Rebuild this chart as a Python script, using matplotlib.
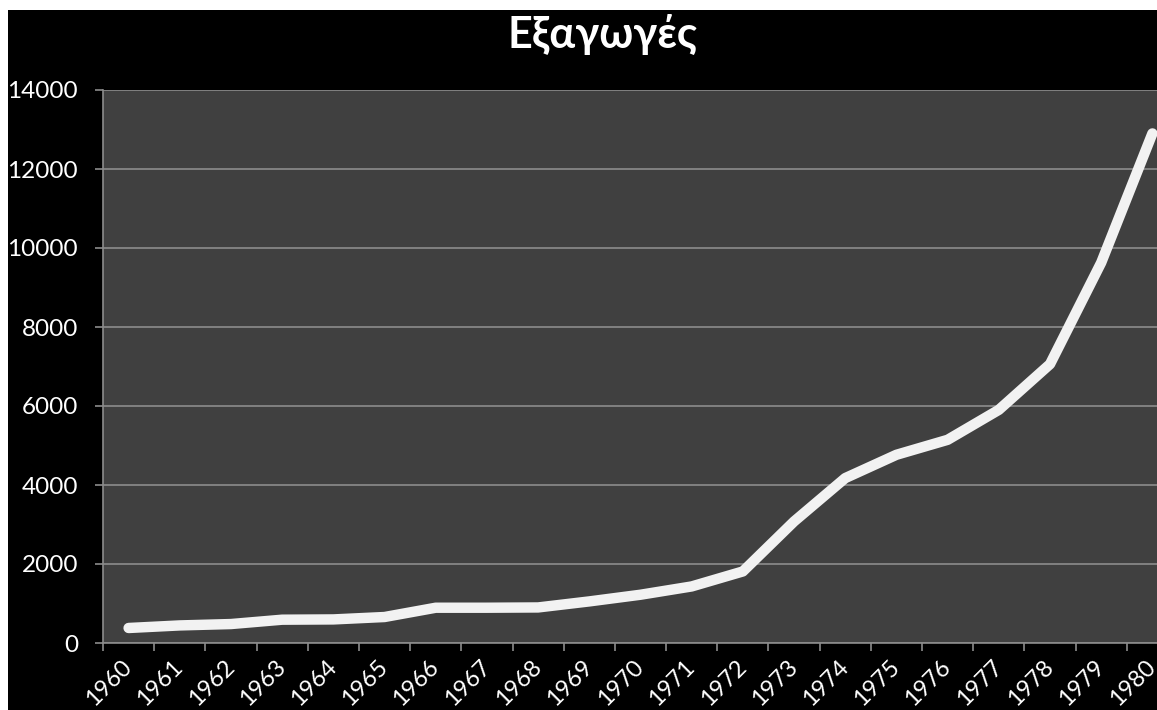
import numpy as np
import matplotlib
matplotlib.use("Agg")
from matplotlib import pyplot as plt
from matplotlib.patches import Rectangle

plt.rcParams['font.family'] = ['Lato', 'DejaVu Sans']

# exports per year
years = ['1960', '1961', '1962', '1963', '1964', '1965', '1966', '1967', '1968', '1969', '1970',
         '1971', '1972', '1973', '1974', '1975', '1976', '1977', '1978', '1979', '1980']
exports = [380, 445, 480, 590, 597, 658, 893, 893, 900, 1053, 1222,
           1432, 1812, 3077, 4175, 4765, 5144, 5903, 7060, 9630, 12900]
title = 'Εξαγωγές'

W, H = 1157, 710
fig = plt.figure(figsize=(W / 100, H / 100), dpi=100, facecolor='white')
# black slide background (white strip at top and left)
fig.patches.append(Rectangle((8 / W, 0), 1, 700 / H, transform=fig.transFigure,
                             facecolor='black', edgecolor='none', zorder=-10))

ax = fig.add_axes([103 / W, (H - 643) / H, 1075 / W, 553 / H])
ax.set_zorder(5)
ax.set_facecolor('#404040')

x = np.arange(len(years))
ax.plot(x, exports, color='#f2f2f2', linewidth=7.5, solid_capstyle='round',
        solid_joinstyle='round', zorder=3)

ax.set_xlim(-0.5, len(years) - 0.5)
ax.set_ylim(0, 14000)
ax.set_yticks(np.arange(0, 14001, 2000))
ax.grid(axis='y', color='#8c8c8c', linewidth=1.2, zorder=1)
ax.set_axisbelow(True)

# ticks between categories, labels at category centres
ax.set_xticks(np.arange(-0.5, len(years), 1.0))
ax.set_xticklabels([])
ax.set_xticks(x, minor=True)
ax.set_xticklabels(years, minor=True, rotation=45, ha='right', va='center',
                   rotation_mode='anchor', color='white', fontsize=17)
ax.tick_params(axis='x', which='major', length=6, width=1.2, color='#8c8c8c', direction='out')
ax.tick_params(axis='x', which='minor', length=0, pad=15)
ax.tick_params(axis='y', length=6, width=1.2, color='#8c8c8c', pad=12,
               labelcolor='white', labelsize=17.5)

for s in ['top', 'right']:
    ax.spines[s].set_visible(False)
for s in ['left', 'bottom']:
    ax.spines[s].set_color('#8c8c8c')
    ax.spines[s].set_linewidth(1.2)

fig.text(603 / W, 1 - 34 / H, title, color='white', fontsize=31, fontweight='bold',
         ha='center', va='center', zorder=6)

plt.savefig('out.png', dpi=100, facecolor=fig.get_facecolor())
